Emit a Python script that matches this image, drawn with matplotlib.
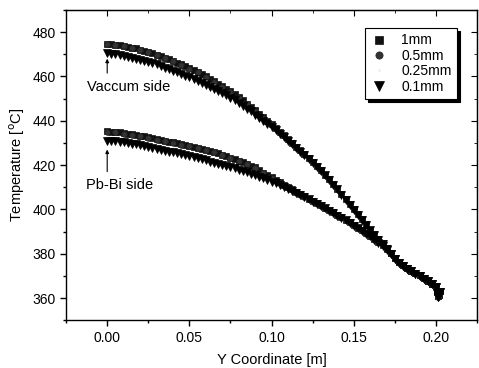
import matplotlib
matplotlib.use("Agg")
import matplotlib.pyplot as plt
from matplotlib.ticker import MultipleLocator

plt.rcParams['font.family'] = ['Liberation Sans', 'DejaVu Sans']

# Y coordinate [m], fine grid (1mm and 0.1mm series)
y_fine = [0.0000, 0.0025, 0.0050, 0.0075, 0.0100, 0.0125, 0.0150, 0.0175, 0.0200, 0.0225,
          0.0250, 0.0275, 0.0300, 0.0325, 0.0350, 0.0375, 0.0400, 0.0425, 0.0450, 0.0475,
          0.0500, 0.0525, 0.0550, 0.0575, 0.0600, 0.0625, 0.0650, 0.0675, 0.0700, 0.0725,
          0.0750, 0.0775, 0.0800, 0.0825, 0.0850, 0.0875, 0.0900, 0.0925, 0.0950, 0.0975,
          0.1000, 0.1025, 0.1050, 0.1075, 0.1100, 0.1125, 0.1150, 0.1175, 0.1200, 0.1225,
          0.1250, 0.1275, 0.1300, 0.1325, 0.1350, 0.1375, 0.1400, 0.1425, 0.1450, 0.1475,
          0.1500, 0.1525, 0.1550, 0.1575, 0.1600, 0.1625, 0.1650, 0.1675, 0.1700, 0.1725,
          0.1750, 0.1775, 0.1800, 0.1825, 0.1850, 0.1875, 0.1900, 0.1925, 0.1950, 0.1975,
          0.2000, 0.2005, 0.2010, 0.2015, 0.2020, 0.2025]

# Y coordinate [m], coarse grid (0.5mm and 0.25mm series)
y_coarse = [0.000, 0.005, 0.010, 0.015, 0.020, 0.025, 0.030, 0.035, 0.040, 0.045,
            0.050, 0.055, 0.060, 0.065, 0.070, 0.075, 0.080, 0.085, 0.090, 0.095,
            0.100, 0.105, 0.110, 0.115, 0.120, 0.125, 0.130, 0.135, 0.140, 0.145,
            0.150, 0.155, 0.160, 0.165, 0.170, 0.175, 0.180, 0.185, 0.190, 0.195,
            0.200, 0.2005, 0.201, 0.2015, 0.202, 0.2025]

# Vacuum side temperatures [C]
vac_1mm = [474.7, 474.5, 474.3, 474.0, 473.7, 473.4, 473.0, 472.6, 472.1, 471.6,
           471.0, 470.4, 469.8, 469.2, 468.5, 467.8, 467.0, 466.2, 465.4, 464.6,
           463.7, 462.9, 462.0, 461.0, 460.0, 459.0, 457.9, 456.8, 455.6, 454.4,
           453.2, 451.9, 450.6, 449.2, 447.7, 446.2, 444.7, 443.1, 441.5, 439.9,
           438.3, 436.7, 435.1, 433.4, 431.6, 430.0, 428.3, 426.6, 424.8, 423.1,
           421.3, 419.5, 417.6, 415.7, 413.7, 411.5, 409.3, 407.0, 404.7, 402.4,
           400.1, 397.8, 395.5, 393.2, 390.9, 388.8, 386.7, 384.6, 382.6, 380.3,
           378.0, 376.3, 374.9, 373.6, 372.3, 371.2, 370.2, 369.0, 367.8, 366.5,
           365.2, 362.6, 361.2, 360.7, 361.5, 363.1]
vac_05mm = [474.5, 474.1, 473.5, 472.8, 471.9, 470.8, 469.6, 468.3, 466.8, 465.2,
            463.5, 461.8, 459.8, 457.7, 455.4, 453.0, 450.4, 447.5, 444.5, 441.3,
            438.1, 434.9, 431.5, 428.2, 424.7, 421.2, 417.5, 413.5, 409.2, 404.6,
            400.0, 395.4, 390.8, 386.6, 382.5, 377.9, 374.8, 372.2, 370.1, 367.7,
            365.1, 362.5, 361.1, 360.6, 361.4, 363.0]
vac_025mm = [471.8, 471.3, 470.6, 469.8, 468.9, 467.9, 466.8, 465.5, 464.1, 462.6,
             461.1, 459.5, 457.8, 456.0, 454.0, 451.8, 449.4, 446.8, 444.0, 441.1,
             438.1, 435.0, 431.6, 428.3, 424.8, 421.3, 417.6, 413.6, 409.2, 404.6,
             400.0, 395.4, 390.8, 386.6, 382.5, 377.9, 374.8, 372.2, 370.1, 367.7,
             365.1, 362.5, 361.1, 360.6, 361.4, 363.0]
vac_01mm = [470.5, 470.3, 470.0, 469.6, 469.2, 468.8, 468.4, 467.9, 467.5, 467.0,
            466.5, 466.0, 465.4, 464.7, 464.0, 463.3, 462.6, 461.9, 461.1, 460.4,
            459.6, 458.8, 458.0, 457.2, 456.3, 455.4, 454.5, 453.5, 452.5, 451.4,
            450.3, 449.2, 448.0, 446.8, 445.5, 444.2, 442.8, 441.4, 440.0, 438.6,
            437.2, 435.7, 434.2, 432.6, 431.0, 429.4, 427.8, 426.1, 424.4, 422.7,
            421.0, 419.2, 417.3, 415.4, 413.4, 411.2, 409.0, 406.7, 404.4, 402.1,
            399.8, 397.5, 395.2, 392.9, 390.6, 388.5, 386.4, 384.4, 382.3, 380.0,
            377.7, 376.0, 374.6, 373.3, 372.0, 370.9, 369.9, 368.7, 367.5, 366.2,
            364.9, 362.3, 360.9, 360.4, 361.2, 362.8]

# Pb-Bi side temperatures [C]
pb_1mm = [435.2, 435.1, 434.9, 434.7, 434.4, 434.1, 433.8, 433.5, 433.2, 432.9,
          432.5, 432.1, 431.7, 431.4, 431.0, 430.6, 430.2, 429.8, 429.4, 429.0,
          428.6, 428.2, 427.8, 427.4, 427.0, 426.5, 425.9, 425.3, 424.7, 424.1,
          423.4, 422.7, 422.0, 421.3, 420.5, 419.7, 418.9, 417.8, 416.6, 415.5,
          414.4, 413.3, 412.2, 411.1, 410.1, 409.0, 408.0, 407.0, 405.9, 404.8,
          403.8, 402.8, 401.8, 400.8, 399.7, 398.6, 397.5, 396.4, 395.3, 394.2,
          393.0, 391.8, 390.6, 389.4, 388.1, 386.7, 385.3, 383.8, 382.1, 380.1,
          378.0, 376.3, 374.9, 373.6, 372.3, 371.2, 370.2, 369.0, 367.8, 366.5,
          365.2, 362.6, 361.2, 360.7, 361.5, 363.1]
pb_05mm = [435.0, 434.7, 434.2, 433.6, 433.0, 432.3, 431.5, 430.8, 430.0, 429.2,
           428.4, 427.6, 426.8, 425.7, 424.5, 423.2, 421.8, 420.3, 418.7, 416.4,
           414.2, 412.0, 409.9, 407.8, 405.8, 403.7, 401.7, 399.6, 397.4, 395.2,
           392.9, 390.5, 388.0, 385.2, 382.0, 377.9, 374.8, 372.2, 370.1, 367.7,
           365.1, 362.5, 361.1, 360.6, 361.4, 363.0]
pb_025mm = [432.3, 432.0, 431.5, 430.9, 430.2, 429.4, 428.6, 427.8, 427.0, 426.2,
            425.3, 424.4, 423.4, 422.4, 421.4, 420.3, 419.2, 418.0, 416.7, 415.2,
            413.6, 411.8, 409.8, 407.9, 405.9, 403.8, 401.8, 399.7, 397.5, 395.3,
            393.0, 390.6, 388.1, 385.3, 382.1, 378.0, 374.9, 372.3, 370.2, 367.8,
            365.2, 362.6, 361.2, 360.7, 361.5, 363.1]
pb_01mm = [431.0, 430.9, 430.7, 430.5, 430.2, 429.9, 429.6, 429.3, 428.9, 428.5,
           428.1, 427.7, 427.3, 426.9, 426.5, 426.1, 425.7, 425.3, 424.9, 424.5,
           424.0, 423.6, 423.1, 422.6, 422.1, 421.6, 421.1, 420.6, 420.1, 419.6,
           419.0, 418.5, 417.9, 417.3, 416.7, 416.1, 415.4, 414.7, 414.0, 413.3,
           412.5, 411.7, 410.9, 410.1, 409.2, 408.3, 407.4, 406.5, 405.5, 404.5,
           403.5, 402.5, 401.5, 400.5, 399.4, 398.3, 397.2, 396.1, 395.0, 393.9,
           392.7, 391.5, 390.3, 389.1, 387.8, 386.4, 385.0, 383.5, 381.8, 379.8,
           377.7, 376.0, 374.6, 373.3, 372.0, 370.9, 369.9, 368.7, 367.5, 366.2,
           364.9, 362.3, 360.9, 360.4, 361.2, 362.8]

series_labels = ['1mm', '0.5mm', '0.25mm', '0.1mm']
x_ticks = [0.00, 0.05, 0.10, 0.15, 0.20]
x_tick_labels = ['0.00', '0.05', '0.10', '0.15', '0.20']
y_ticks = [360, 380, 400, 420, 440, 460, 480]

fig = plt.figure(figsize=(4.79, 3.68), dpi=100)
ax = fig.add_axes([0.138, 0.130, 0.858, 0.843])

styles = [
    dict(marker='s', ms=4.0, mfc='#111111', mec='#111111', mew=0.5),
    dict(marker='o', ms=4.0, mfc='#333333', mec='#222222', mew=0.5),
    dict(marker='o', ms=1.4, mfc='#eeeeee', mec='#eeeeee', mew=0.3),
    dict(marker='v', ms=5.8, mfc='#000000', mec='#000000', mew=0.5),
]
xs = [y_fine, y_coarse, y_coarse, y_fine]
vac = [vac_1mm, vac_05mm, vac_025mm, vac_01mm]
pb = [pb_1mm, pb_05mm, pb_025mm, pb_01mm]

handles = []
for lab, st, x, v, p in zip(series_labels, styles, xs, vac, pb):
    h, = ax.plot(x, v, ls='none', label=lab, **st)
    ax.plot(x, p, ls='none', **st)
    handles.append(h)

ax.set_xlim(-0.025, 0.225)
ax.set_ylim(350, 490)
ax.set_xticks(x_ticks)
ax.set_xticklabels(x_tick_labels)
ax.set_yticks(y_ticks)
ax.xaxis.set_minor_locator(MultipleLocator(0.025))
ax.yaxis.set_minor_locator(MultipleLocator(10))
ax.tick_params(which='major', direction='out', length=4, width=1, labelsize=10)
ax.tick_params(which='minor', direction='out', length=2.5, width=1)

secx = ax.secondary_xaxis('top')
secx.set_xticks(x_ticks)
secx.xaxis.set_minor_locator(MultipleLocator(0.025))
secx.tick_params(which='both', direction='in', labeltop=False, length=4)
secx.tick_params(which='minor', length=2.5)
secy = ax.secondary_yaxis('right')
secy.set_yticks(y_ticks)
secy.yaxis.set_minor_locator(MultipleLocator(10))
secy.tick_params(which='both', direction='in', labelright=False, length=4)
secy.tick_params(which='minor', length=2.5)

for sp in ax.spines.values():
    sp.set_linewidth(1.0)

ax.set_xlabel('Y Coordinate [m]', fontsize=10.5, labelpad=6)
ax.set_ylabel('Temperature [$^{\\rm o}$C]', fontsize=10.5, labelpad=4)

ax.annotate('', xy=(0.0, 468.0), xytext=(0.0, 461.5),
            arrowprops=dict(arrowstyle='-|>', color='black', lw=0.8,
                            mutation_scale=5, shrinkA=0, shrinkB=0))
ax.text(0.013, 455.3, 'Vaccum side', fontsize=10.5, ha='center', va='center')
ax.annotate('', xy=(0.0, 427.0), xytext=(0.0, 417.0),
            arrowprops=dict(arrowstyle='-|>', color='black', lw=0.8,
                            mutation_scale=5, shrinkA=0, shrinkB=0))
ax.text(0.0075, 411.0, 'Pb-Bi side', fontsize=10.5, ha='center', va='center')

leg = ax.legend(handles=handles, loc='upper right', bbox_to_anchor=(0.951, 0.942),
                borderaxespad=0, fontsize=10, frameon=True, fancybox=False,
                shadow={'color': 'black', 'alpha': 1.0}, handlelength=1.2,
                handletextpad=1.0, labelspacing=0.1, borderpad=0.4,
                markerscale=1.3)
leg.get_frame().set_edgecolor('black')
leg.get_frame().set_linewidth(0.8)

fig.savefig('out.png', dpi=100)
